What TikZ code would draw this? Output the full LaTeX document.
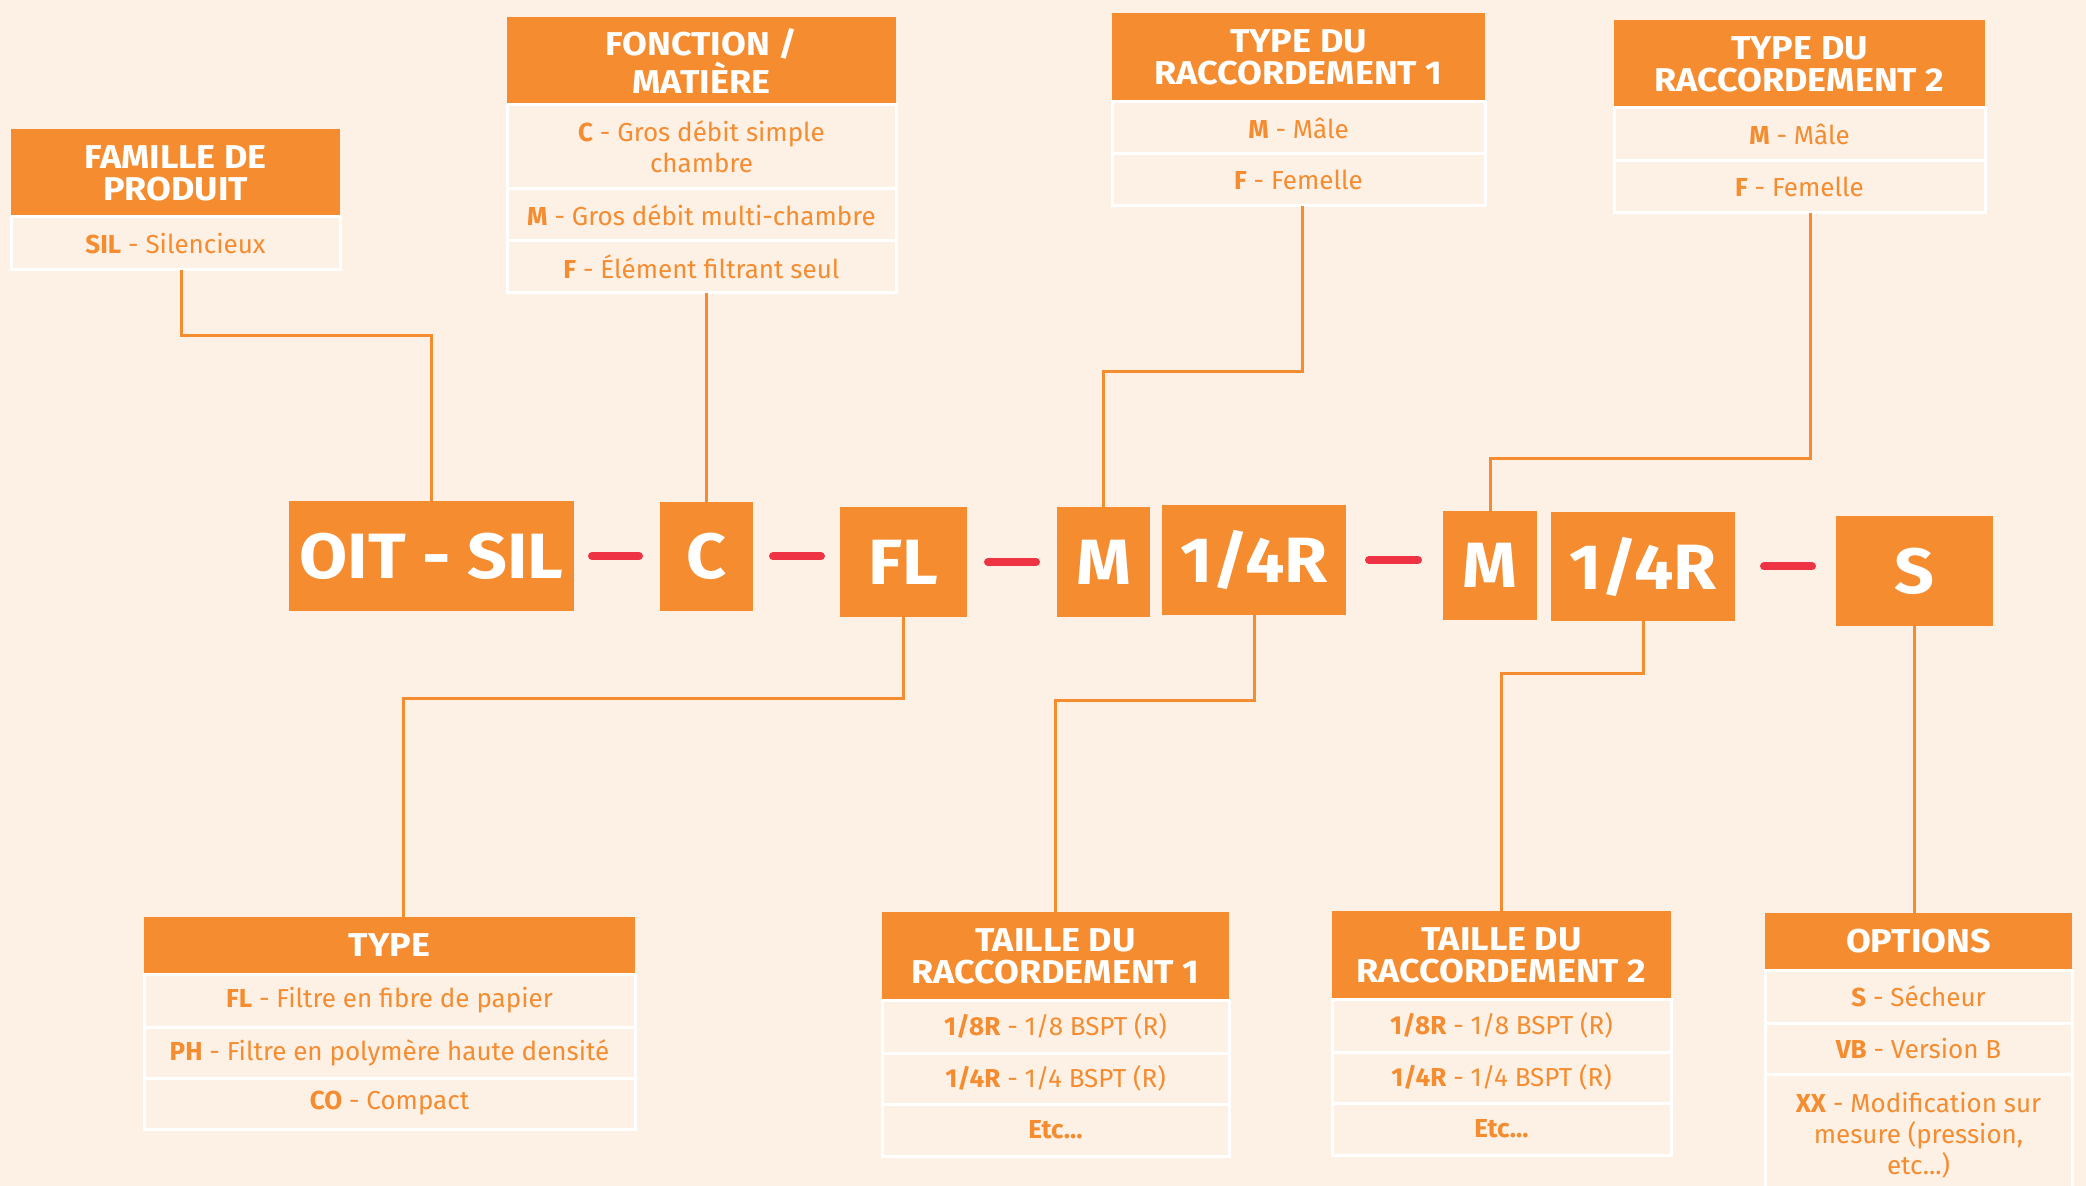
\documentclass[tikz,border=0pt]{standalone}
\usepackage{fontspec}
\setmainfont{Fira Sans}
\newfontfamily\widefont[FakeStretch=1.09]{Fira Sans}
\definecolor{bg}{RGB}{253,240,228}
\definecolor{org}{RGB}{245,140,48}
\definecolor{rd}{RGB}{238,52,68}
\begin{document}
\begin{tikzpicture}[x=0.5pt,y=-0.5pt,
 hdr/.style={fill=org, text=white, font=\widefont\fontsize{16.5}{16}\selectfont\bfseries, align=center, inner sep=0pt, outer sep=0pt},
 row/.style={draw=white, line width=1.5pt, text=org, font=\fontsize{13}{15.5}\selectfont, align=center, inner sep=0pt, outer sep=0pt},
 code/.style={fill=org, text=white, font=\widefont\fontsize{32}{32}\selectfont\bfseries, inner sep=0pt, outer sep=0pt},
 conn/.style={draw=org, line width=1.5pt},
 hy/.style={draw=rd, line width=4pt, line cap=round, yshift=-2pt}]
\fill[bg] (0,0) rectangle (2086,1186);
\useasboundingbox (0,0) rectangle (2086,1186);

% FAMILLE
\node[hdr, minimum width=164.5pt, minimum height=44pt] (famh) at (175.5,173) {FAMILLE DE\\PRODUIT};
\node[row, minimum width=164.5pt, minimum height=26.5pt] (famr) at (175.5,243.5) {\textbf{SIL} - Silencieux};

% FONCTION
\node[hdr, minimum width=194.5pt, minimum height=44pt] (fonh) at (701.5,61) {FONCTION /\\MATIÈRE};
\node[row, minimum width=194.5pt, minimum height=42pt] (fon1) at (701.5,147) {\textbf{C} - Gros débit simple\\chambre};
\node[row, minimum width=194.5pt, minimum height=26pt] (fon2) at (701.5,215) {\textbf{M} - Gros débit multi-chambre};
\node[row, minimum width=194.5pt, minimum height=26pt] (fon3) at (701.5,267) {\textbf{F} - Élément filtrant seul};

% TYPE DU RACCORDEMENT 1
\node[hdr, minimum width=186.5pt, minimum height=44.5pt] (t1h) at (1298.5,57.5) {TYPE DU\\RACCORDEMENT 1};
\node[row, minimum width=186.5pt, minimum height=26pt] (t1r1) at (1298.5,128) {\textbf{M} - Mâle};
\node[row, minimum width=186.5pt, minimum height=26pt] (t1r2) at (1298.5,180) {\textbf{F} - Femelle};

% TYPE DU RACCORDEMENT 2
\node[hdr, minimum width=185.5pt, minimum height=44pt] (t2h) at (1799.5,64) {TYPE DU\\RACCORDEMENT 2};
\node[row, minimum width=185.5pt, minimum height=26.5pt] (t2r1) at (1799.5,134.5) {\textbf{M} - Mâle};
\node[row, minimum width=185.5pt, minimum height=26pt] (t2r2) at (1799.5,187) {\textbf{F} - Femelle};

% TYPE
\node[hdr, minimum width=245.5pt, minimum height=28.5pt] (tyh) at (389.5,945.5) {TYPE};
\node[row, minimum width=245.5pt, minimum height=26.5pt] (ty1) at (389.5,1000.5) {\textbf{FL} - Filtre en fibre de papier};
\node[row, minimum width=245.5pt, minimum height=25.5pt] (ty2) at (389.5,1052.5) {\textbf{PH} - Filtre en polymère haute densité};
\node[row, minimum width=245.5pt, minimum height=25.5pt] (ty3) at (389.5,1103.5) {\textbf{CO} - Compact};

% TAILLE 1
\node[hdr, minimum width=173.5pt, minimum height=44pt] (ta1h) at (1055.5,956) {TAILLE DU\\RACCORDEMENT 1};
\node[row, minimum width=173.5pt, minimum height=26.5pt] (ta11) at (1055.5,1026.5) {\textbf{1/8R} - 1/8 BSPT (R)};
\node[row, minimum width=173.5pt, minimum height=25.5pt] (ta12) at (1055.5,1078.5) {\textbf{1/4R} - 1/4 BSPT (R)};
\node[row, minimum width=173.5pt, minimum height=26pt] (ta13) at (1055.5,1130) {\textbf{Etc...}};

% TAILLE 2
\node[hdr, minimum width=169.5pt, minimum height=44pt] (ta2h) at (1501.5,955) {TAILLE DU\\RACCORDEMENT 2};
\node[row, minimum width=169.5pt, minimum height=26.5pt] (ta21) at (1501.5,1025.5) {\textbf{1/8R} - 1/8 BSPT (R)};
\node[row, minimum width=169.5pt, minimum height=25.5pt] (ta22) at (1501.5,1077.5) {\textbf{1/4R} - 1/4 BSPT (R)};
\node[row, minimum width=169.5pt, minimum height=26pt] (ta23) at (1501.5,1129) {\textbf{Etc...}};

% OPTIONS
\node[hdr, minimum width=153.5pt, minimum height=28.5pt] (oph) at (1918.5,941.5) {OPTIONS};
\node[row, minimum width=153.5pt, minimum height=26.5pt] (op1) at (1918.5,996.5) {\textbf{S} - Sécheur};
\node[row, minimum width=153.5pt, minimum height=25.5pt] (op2) at (1918.5,1048.5) {\textbf{VB} - Version B};
\node[row, minimum width=153.5pt, minimum height=61pt] (op3) at (1918.5,1135) {\textbf{XX} - Modification sur\\mesure (pression,\\etc...)};

% code boxes
\node[code, minimum width=142.5pt, minimum height=55pt] (oit) at (431.5,556) {OIT - SIL};
\node[code, minimum width=46.5pt, minimum height=54.5pt] (c) at (706.5,556.5) {C};
\node[code, minimum width=63.5pt, minimum height=55pt] (fl) at (903.5,562) {FL};
\node[code, minimum width=46.5pt, minimum height=55pt] (m1) at (1103.5,562) {M};
\node[code, minimum width=92pt, minimum height=55pt] (r1) at (1254,560) {1/4R};
\node[code, minimum width=47pt, minimum height=54.5pt] (m2) at (1490,565.5) {M};
\node[code, minimum width=92pt, minimum height=54.5pt] (r2) at (1643,566.5) {1/4R};
\node[code, minimum width=78.5pt, minimum height=55pt] (s) at (1914.5,571) {S};

% red hyphens
\draw[hy, shorten <=9pt, shorten >=10.5pt] (oit.east) -- (oit.east -| c.west);
\draw[hy, shorten <=10pt, shorten >=9.5pt] (c.east) -- (c.east -| fl.west);
\draw[hy, shorten <=10.5pt, shorten >=10.5pt] (fl.east) -- (fl.east -| m1.west);
\draw[hy, shorten <=11.5pt, shorten >=12.5pt, yshift=-3pt] (r1.east) -- (r1.east -| m2.west);
\draw[hy, shorten <=14.5pt, shorten >=12pt, yshift=-1pt] (r2.east) -- (r2.east -| s.west);

% connectors
\draw[conn] ([xshift=3pt]famr.south) -- ++(0,66) -| (oit.north);
\draw[conn] (c.north |- fon3.south) -- (c.north);
\draw[conn] ([xshift=2pt]t1r2.south) -- ++(0,166) -| (m1.north);
\draw[conn] ([xshift=5.5pt]t2r2.south) -- ++(0,246) -| (m2.north);
\draw[conn] (fl.south) -- ++(0,81) -| ([xshift=7pt]tyh.north);
\draw[conn] (r1.south) -- ++(0,85) -| (ta1h.north);
\draw[conn] (r2.south) -- ++(0,52) -| (ta2h.north);
\draw[conn] (s.south) -- (s.south |- oph.north);
\end{tikzpicture}
\end{document}
